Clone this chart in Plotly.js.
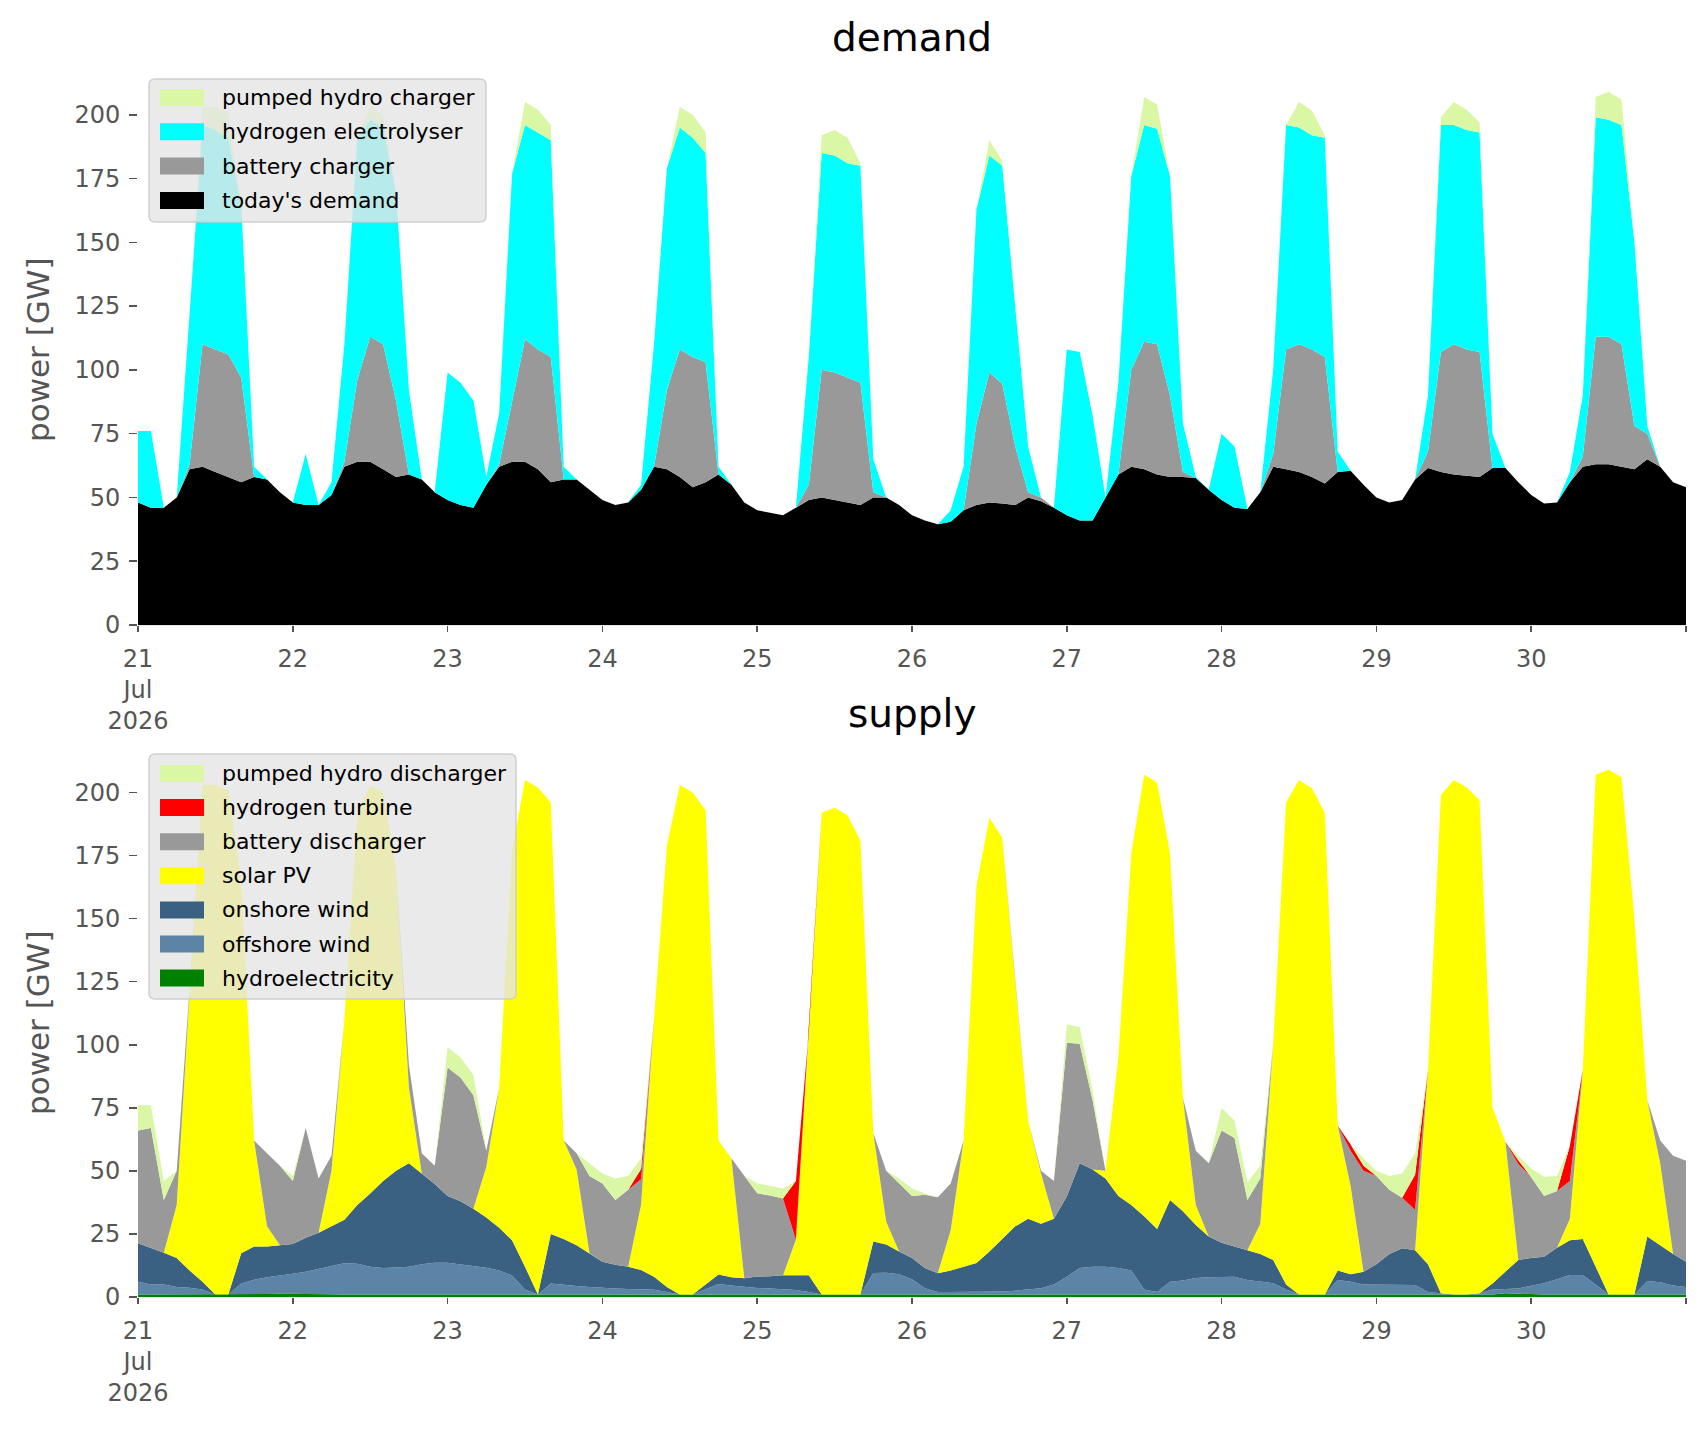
<!DOCTYPE html>
<html>
<head>
<meta charset="utf-8">
<script src="https://cdn.plot.ly/plotly-3.0.1.min.js"></script>
<style>
  html, body { margin: 0; padding: 0; background: #fff; }
  #chart { width: 1706px; height: 1431px; }
</style>
</head>
<body>
<div id="chart"></div>
<script>
// two-hourly values, 21 Jul 00:00 .. 31 Jul 00:00 (121 points), GW

// ---- demand ----
const todaysDemand = [
  48,46,46,50,61,62,60,58,56,58,57,52,
  48,47,47,51,62,64,64,61,58,59,57,52,
  49,47,46,55,62,64,64,61,56,57,57,53,
  49,47,48,53,62,61,58,54,56,59,55,48,
  45,44,43,46,49,50,49,48,47,50,50,47,
  43,41,39.5,40.5,45,47,48,47.6,47,50,48.5,46,
  43,41,41,50,59,62,61,59,58,58,57.6,53,
  49,46,45.5,52,62,61,60,58,55.5,60,60.5,55,
  50,48,49,57,61.5,60,59,58.5,58,61.5,61.5,56,
  51,47.6,48,56,62,63,63,62,61,65,62,56,
  54];
const batteryCharger = [
  0,0,0,0,2,48,48,48,41,0,0,0,
  0,0,0,0,2,32,49,49,30,0,0,0,
  0,0,0,0,1,24,48,47,49,0,0,0,
  0,0,0,0,0,31,50,51,47,0,0,0,
  0,0,0,0,6,50,50,49,48,2,0,0,
  0,0,0,0,0,32,51,47,23,2,1.5,0,
  0,0,0,0,0,38,50,51,32,2,0,0,
  0,0,0,0,5,47,50,50,49.5,0,0,0,
  0,0,0,0,6.5,47,51,49.5,49,0,0,0,
  0,0,0,0,4,50,50,48,17,10,0,0,
  0];
const electrolyser = [
  28,30,0,0,59,86,86,85,68,4,0,0,
  0,20,0,5,46,95,85,85,82,33,0,0,
  50,48,42,3,20,89,84,85,85,5,0,0,
  0,0,0,2,48,87,87,86,82,3,0,0,
  0,0,0,0,50,85,85,84,85,13,0,0,
  0,0,0,4.5,17,84,85,85.4,55,18,0,0,
  65,66,41,0,36,76,85,84.5,86,19,0.4,0,
  26,24,0,0,33,88,85,84,86,8,0,0,
  0,0,0,0,22,89,86,86,86,13.5,0,0,
  0,0,0,4,24,86,85,86,72,3,0,0,
  0];
const pumpedCharger = [
  0,0,0,0,0,7,9,10,0,0,0,0,
  0,0,0,0,0,0,5,5,0,0,0,0,
  0,0,0,0,0,0,9,9,6,0,0,0,
  0,0,0,0,0,0,8,9,8,0,0,0,
  0,0,0,0,0,7,10,10,1,0,0,0,
  0,0,0,0,0,0,6,2,0,0,0,0,
  0,0,0,0,0,0,11,9.5,0,0,0,0,
  0,0,0,0,0,0,10,9.7,1,0,0,0,
  0,0,0,0,0,3,9,8,4,0,0,0,
  0,0,0,0,0,8,11,10,0,0,0,0,
  0];

// ---- supply ----
const hydro = [
  1,1,1,1,1,1,1,1,1,1,1.2,1.3,
  1.3,1.2,1.2,1.1,1,1,1,1,1,1,1,1,
  1,1,1,1,1,1,1,1,1,1,1,1,
  1,1,1,1,1,1,1,1,1,1,1,1,
  1,1,1,1,1,1,1,1,1,1,1,1,
  1,1,1,1,1,1,1,1,1,1,1,1,
  1,1,1,1,1,1,1,1,1,1,1,1,
  1,1,1,1,1,1,1,1,1,1,1,1,
  1,1,1,1,1,1,1,1,1,1,1.5,1.3,
  1,1,1,1,1,1,1,1,1,1,1,1,
  1];
const offshore = [
  5,4,4,3,2.7,2,0,0,4.4,5.8,6.6,7.1,
  7.9,8.8,9.8,11.2,12.4,12.2,11,10.5,10.7,11,12,12.6,
  12.6,12,11.5,10.6,9.5,7.5,2,0,4.4,3.8,3.4,3,
  2.6,2.4,2.2,2,1.9,1,0,0,2,4.2,3.6,3,
  2.6,2.4,2,1.8,1,0,0,0,0,8.5,8.6,8,
  6,2.5,1,1,1,1,1,1.2,1.5,2,2.5,4,
  7,10.5,11,11,10.5,9.5,2,1,5,5.5,6.5,6.8,
  7,7,5.7,5,4.5,2,0,0,0,5.7,5,4,
  4,3.8,3.8,3.8,1,0.5,0,0,0.5,2,1.7,2.1,
  3.5,4.5,6,7.7,7.7,4,0,0,0,5.3,4.8,3.6,
  3];
const onshore = [
  15.3,14.5,12.5,11.5,6.8,3,0,0,11.9,13.2,12.2,12.1,
  11.8,13.5,14.5,15.7,17.2,23.3,29,34.5,38.3,41,36,31.2,
  26.4,25,22.5,19.9,17,14,9,0,19.6,18.2,16.1,13.3,
  10.4,9.4,8.8,7.7,5.1,2,0,0,2,3.7,3.2,3.4,
  4.5,4.8,5.6,5.9,6.6,0,0,0,0,12.5,11.2,9,
  8.5,8,7.4,8.5,10,11.5,16,20.8,25.5,28,25.5,26,
  31.8,41.5,38.5,35,28.5,26,29,25,32.5,27.5,21,16.2,
  13.5,12,11.8,11,9.2,2,0,0,0,3.8,3,5,
  8,12.2,14.5,13.7,11,0,0,0,0,2.4,6.8,11.3,
  11,10.5,12.5,13.8,14.3,7,0,0,0,17.7,14.7,12.4,
  10];
const solarPV = [
  0,0,0,21,111.5,197,202,200,147.7,42,8,0,
  0,0,0,22,79.4,154.5,162,154,120,30,0,0,
  0,0,0,20,55.5,154.5,193,201,171,39,30,0,
  0,0,0,26,102,175,202,199,188,53,47.2,0,
  0,0,0,14,96.4,191,193,190,180,43,9,0,
  0,0,0,16,50,149.5,172,159,97,39,20,0,
  0,0,0,3,55,139.5,175,177,137.5,45,8,0,
  0,0,0,12,85.3,191,204,200.7,191,57.5,35,0,
  0,0,0,0,77,197.5,204,201,195.5,69.6,51.5,0,
  0,0,0,8.5,67,195,208,205,149,54,32.5,0,
  0];
const batteryDischarger = [
  44.7,47.5,21,13.5,0,0,0,0,0,0,29,31.5,
  25,43.5,21.5,6,0,0,0,0,0,9,8,7.2,
  51,49,45,6.5,0,0,0,0,0,0,6.5,30.7,
  31,25.7,30.5,10,0,0,0,0,0,0,0,40.6,
  33,32,30.4,0,0,0,0,0,0,0,20.2,27,
  24.5,29,30.1,18.5,0,0,0,0,0,0,1,15,
  61,47.4,27.5,0,0,0,0,0,0,0,21.5,29,
  44.5,43,20,18,0,0,0,0,0,0,14,40,
  35,25.5,20,16,0,0,0,0,0,0,0,38,
  32,24,22.5,15,0,0,0,0,0,0,9,39,
  40];
const hydrogenTurbine = [
  0,0,0,0,0,0,0,0,0,0,0,0,
  0,0,0,0,0,0,0,0,0,0,0,0,
  0,0,0,0,0,0,0,0,0,0,0,0,
  0,0,0,4,0,0,0,0,0,0,0,0,
  0,0,0,23.3,0,0,0,0,0,0,0,0,
  0,0,0,0,0,0,0,0,0,0,0,0,
  0,0,0,0,0,0,0,0,0,0,0,0,
  0,0,0,0,0,0,0,0,0,0,2.5,2,
  0,0,0,14,0,0,0,0,0,0,0,1.5,
  0,0,0,14,0,0,0,0,0,0,0,0,
  0];
const pumpedDischarger = [
  10,9,7.5,0,0,0,0,0,0,0,0,0,
  2,0,0,0,0,0,0,0,0,0,0,0,
  8,8,8,0,0,0,0,0,0,0,0,5,
  4,8.5,5.5,4.3,0,0,0,0,0,0,0,0,
  4,3.8,4,0,0,0,0,0,0,0,0,2,
  3,0.5,0,0,0,0,0,0,0,0,0,0,
  7.2,6.6,4,0,0,0,0,0,0,0,0,0,
  9,7,7,5,0,0,0,0,0,0,0,3,
  2,5.5,9.7,8.5,0,0,0,0,0,0,0,1.8,
  3.5,7.6,6,0,0,0,0,0,0,0,0,0,
  0];

const dayTicks = ['2026-07-21','2026-07-22','2026-07-23','2026-07-24','2026-07-25',
                  '2026-07-26','2026-07-27','2026-07-28','2026-07-29','2026-07-30','2026-07-31'];
const dayLabels = ['21<br>Jul<br>2026','22','23','24','25','26','27','28','29','30',''];

// time stamps, every 2 hours
const t0 = Date.UTC(2026, 6, 21);
const times = todaysDemand.map((_, i) =>
  new Date(t0 + i * 2 * 3600 * 1000).toISOString().slice(0, 16).replace('T', ' '));

function area(name, y, color, panel) {
  return {
    x: times, y: y, name: name,
    type: 'scatter', mode: 'lines',
    stackgroup: panel === 1 ? 'demand' : 'supply',
    line: {width: 0, color: color},
    fillcolor: color,
    xaxis: panel === 1 ? 'x' : 'x2',
    yaxis: panel === 1 ? 'y' : 'y2',
    showlegend: false
  };
}

const demandTraces = [
  area("today's demand", todaysDemand, '#000000', 1),
  area('battery charger', batteryCharger, '#999999', 1),
  area('hydrogen electrolyser', electrolyser, '#00ffff', 1),
  area('pumped hydro charger', pumpedCharger, '#daf7a6', 1)
];
const supplyTraces = [
  area('hydroelectricity', hydro, '#008000', 2),
  area('offshore wind', offshore, '#5b84a6', 2),
  area('onshore wind', onshore, '#3b6182', 2),
  area('solar PV', solarPV, '#ffff00', 2),
  area('battery discharger', batteryDischarger, '#999999', 2),
  area('hydrogen turbine', hydrogenTurbine, '#ff0000', 2),
  area('pumped hydro discharger', pumpedDischarger, '#daf7a6', 2)
];

const font = 'DejaVu Sans, Verdana, sans-serif';
const tickFont = {family: font, size: 24, color: '#555555'};

// plot area in pixels: x 138..1686, y 65..1297
const L = 138, W = 1548, B = 1297, H = 1232;
const px = x => (x - L) / W;
const py = y => (B - y) / H;

// legend boxes drawn as shapes + text, like a semi transparent matplotlib legend
const shapes = [];
const annotations = [];
function roundRect(x0, y0, x1, y1, r) {
  const p = (x, y) => px(x) + ',' + py(y);
  return 'M' + p(x0 + r, y0) + ' L' + p(x1 - r, y0) + ' Q' + p(x1, y0) + ' ' + p(x1, y0 + r) +
         ' L' + p(x1, y1 - r) + ' Q' + p(x1, y1) + ' ' + p(x1 - r, y1) +
         ' L' + p(x0 + r, y1) + ' Q' + p(x0, y1) + ' ' + p(x0, y1 - r) +
         ' L' + p(x0, y0 + r) + ' Q' + p(x0, y0) + ' ' + p(x0 + r, y0) + ' Z';
}
function addLegend(traces, left, top, right, bottom, rowTop, rowStep) {
  shapes.push({type: 'path', xref: 'paper', yref: 'paper', layer: 'above',
    path: roundRect(left, top, right, bottom, 6),
    fillcolor: 'rgba(229,229,229,0.8)', line: {color: 'rgba(204,204,204,0.9)', width: 1.5}});
  traces.slice().reverse().forEach((tr, i) => {
    const cy = rowTop + i * rowStep;
    shapes.push({type: 'rect', xref: 'paper', yref: 'paper', layer: 'above',
      x0: px(left + 11), x1: px(left + 55), y0: py(cy - 8.5), y1: py(cy + 8.5),
      fillcolor: tr.fillcolor, line: {width: 0}});
    annotations.push({text: tr.name, xref: 'paper', yref: 'paper',
      x: px(left + 71), y: py(cy), xanchor: 'left', yanchor: 'middle', showarrow: false,
      font: {family: font, size: 22, color: '#000000'}});
  });
}
addLegend(demandTraces, 149, 79, 486, 222, 97.5, 34.3);
addLegend(supplyTraces, 149, 754, 516, 999, 773.5, 34.1);

function title(text, y) {
  annotations.push({text: text, xref: 'paper', yref: 'paper', x: 0.5, y: py(y),
    xanchor: 'center', yanchor: 'middle', showarrow: false,
    font: {family: font, size: 39, color: '#000000'}});
}
function yTitle(y) {
  annotations.push({text: 'power [GW]', xref: 'paper', yref: 'paper', x: px(38), y: py(y),
    xanchor: 'center', yanchor: 'middle', textangle: -90, showarrow: false,
    font: {family: font, size: 31, color: '#555555'}});
}
title('demand', 38);
title('supply', 713);
yTitle(350);
yTitle(1023);

function xAxis(anchor) {
  return {
    anchor: anchor, type: 'date',
    range: [times[0], times[times.length - 1]],
    tickmode: 'array', tickvals: dayTicks, ticktext: dayLabels,
    ticks: 'outside', ticklen: 6, tickwidth: 1.5, tickcolor: '#555555',
    ticklabelstandoff: 6,
    tickfont: tickFont, showgrid: false, zeroline: false,
    showline: true, linecolor: '#e6e6e6', linewidth: 1
  };
}
function yAxis(domain, top) {
  return {
    domain: domain, range: [0, top],
    tickmode: 'array', tickvals: [0,25,50,75,100,125,150,175,200],
    ticks: 'outside', ticklen: 8, tickwidth: 1.5, tickcolor: '#555555',
    ticklabelstandoff: 4,
    tickfont: tickFont, showgrid: false, zeroline: false, showline: false
  };
}

const layout = {
  width: 1706, height: 1431,
  margin: {l: L, r: 1706 - L - W, t: B - H, b: 1431 - B},
  paper_bgcolor: '#ffffff', plot_bgcolor: '#ffffff',
  font: {family: font},
  showlegend: false,
  xaxis: xAxis('y'),
  yaxis: yAxis([py(625), 1], 219.5),
  xaxis2: xAxis('y2'),
  yaxis2: yAxis([0, py(737)], 222),
  shapes: shapes,
  annotations: annotations
};

Plotly.newPlot('chart', demandTraces.concat(supplyTraces), layout,
  {displayModeBar: false, staticPlot: true});
</script>
</body>
</html>
